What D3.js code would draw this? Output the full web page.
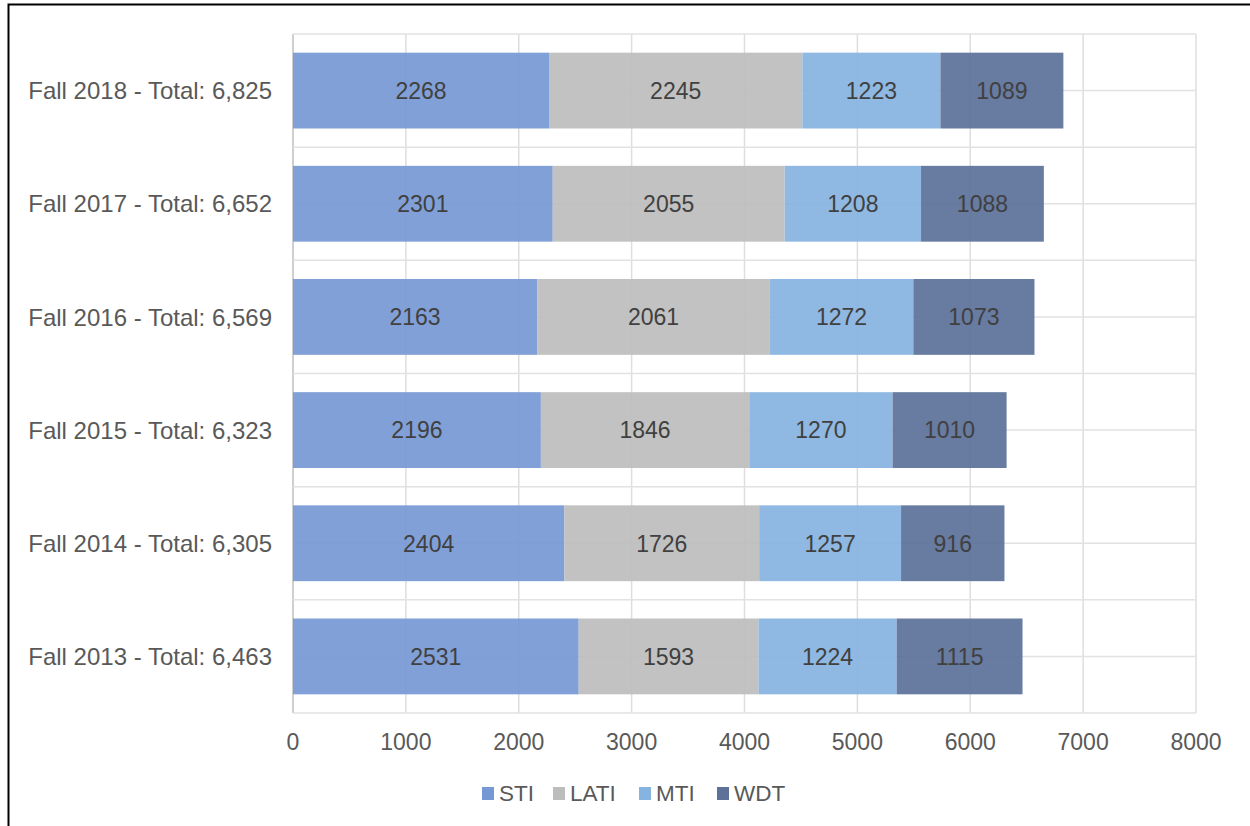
<!doctype html>
<html>
<head>
<meta charset="utf-8"/>
<title>Enrollment by campus</title>
<script src="https://d3js.org/d3.v7.min.js"></script>
<style>
body{margin:0;background:#fff;}
text{font-family:"Liberation Sans",Arial,sans-serif;}
</style>
</head>
<body>
<script type="text/javascript">
// data, top to bottom as drawn
var years = ["Fall 2018", "Fall 2017", "Fall 2016", "Fall 2015", "Fall 2014", "Fall 2013"];
var totals = ["6,825", "6,652", "6,569", "6,323", "6,305", "6,463"];
var series = ["STI", "LATI", "MTI", "WDT"];
var sti  = [2268, 2301, 2163, 2196, 2404, 2531];
var lati = [2245, 2055, 2061, 1846, 1726, 1593];
var mti  = [1223, 1208, 1272, 1270, 1257, 1224];
var wdt  = [1089, 1088, 1073, 1010, 916, 1115];
var xTicks = [0, 1000, 2000, 3000, 4000, 5000, 6000, 7000, 8000];
var colors = ["#7699d4", "#bdbdbd", "#86b4e0", "#5d7199"];

var W = 1250, H = 826;
var svg = d3.select("body").append("svg").attr("width", W).attr("height", H);

// outer frame
svg.append("rect").attr("x", 8.5).attr("y", 4.5).attr("width", W + 10).attr("height", H + 10)
  .attr("fill", "none").attr("stroke", "#000").attr("stroke-width", 2);

var pLeft = 293, pRight = 1196, pTop = 34, pBottom = 713;
var x = d3.scaleLinear().domain([0, 8000]).range([pLeft, pRight]);
var y = d3.scaleBand().domain(years).range([pTop, pBottom]).paddingInner(0.33).paddingOuter(0.165);

var rows = years.map(function(d, i) {
  return {year: d, total: totals[i], vals: [sti[i], lati[i], mti[i], wdt[i]]};
});

// grid
var grid = svg.append("g");
grid.selectAll(".vg").data(xTicks).enter().append("line")
  .attr("x1", function(d){return x(d)}).attr("x2", function(d){return x(d)})
  .attr("y1", pTop).attr("y2", pBottom)
  .attr("stroke", function(d){return d == 0 ? "#bfbfbf" : "#dedede"}).attr("stroke-width", 1.5);
var step = (pBottom - pTop) / years.length;
var hl = d3.range(0, years.length * 2 + 1).map(function(k){return pTop + k * step / 2});
grid.selectAll(".hg").data(hl).enter().append("line")
  .attr("x1", pLeft).attr("x2", pRight)
  .attr("y1", function(d){return d}).attr("y2", function(d){return d})
  .attr("stroke", "#e2e2e2").attr("stroke-width", 1.5);

// bars
var g = svg.append("g").selectAll("g").data(rows).enter().append("g");
g.each(function(r) {
  var acc = 0;
  var gg = d3.select(this);
  r.vals.forEach(function(v, j) {
    gg.append("rect")
      .attr("x", x(acc)).attr("width", x(acc + v) - x(acc))
      .attr("y", y(r.year)).attr("height", y.bandwidth())
      .attr("fill", colors[j]).attr("fill-opacity", 0.93);
    gg.append("text")
      .attr("x", x(acc + v / 2)).attr("y", y(r.year) + y.bandwidth() / 2)
      .attr("dy", "0.36em").attr("text-anchor", "middle")
      .attr("font-size", 23).attr("fill", "#404040").text(v);
    acc += v;
  });
});

// category labels
svg.append("g").selectAll("text").data(rows).enter().append("text")
  .attr("x", 272).attr("y", function(d){return y(d.year) + y.bandwidth() / 2})
  .attr("dy", "0.36em").attr("text-anchor", "end")
  .attr("font-size", 24).attr("fill", "#595959")
  .text(function(d){return d.year + " - Total: " + d.total});

// x tick labels
svg.append("g").selectAll("text").data(xTicks).enter().append("text")
  .attr("x", function(d){return x(d)}).attr("y", 742)
  .attr("dy", "0.36em").attr("text-anchor", "middle")
  .attr("font-size", 23).attr("fill", "#595959").text(function(d){return d});

// legend
var legX = [482, 553, 639, 717];
var leg = svg.append("g").selectAll("g").data(series).enter().append("g");
leg.append("rect")
  .attr("x", function(d, i){return legX[i]}).attr("y", 787)
  .attr("width", 12).attr("height", 13)
  .attr("fill", function(d, i){return colors[i]});
leg.append("text")
  .attr("x", function(d, i){return legX[i] + 17}).attr("y", 793)
  .attr("dy", "0.36em").attr("font-size", 22.5).attr("fill", "#595959")
  .text(function(d){return d});
</script>
</body>
</html>
